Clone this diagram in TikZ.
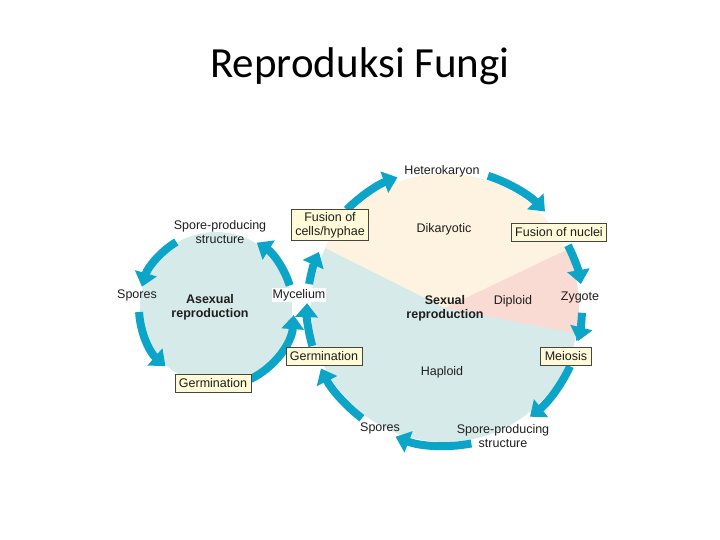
\documentclass[tikz,border=0pt]{standalone}
\usepackage{fontspec}
\setmainfont{Liberation Sans}
\newfontfamily\titlefont{Carlito}
\usetikzlibrary{arrows.meta}
\definecolor{arrowblue}{RGB}{12,165,200}
\definecolor{diskblue}{RGB}{214,235,233}
\definecolor{diskcream}{RGB}{253,243,224}
\definecolor{diskpink}{RGB}{249,219,212}
\definecolor{boxfill}{RGB}{255,250,215}
\definecolor{boxline}{RGB}{70,70,60}
\definecolor{txt}{RGB}{30,30,30}
\tikzset{
  x=1pt, y=1pt,
  cyc/.style={draw=arrowblue, line width=8pt, -{Triangle[length=14pt,width=22pt]}},
  lbl/.style={font=\fontsize{12.5}{14}\selectfont, text=txt, align=center, inner sep=1pt},
  blbl/.style={lbl, font=\fontsize{12.5}{14}\selectfont\bfseries},
  stagebox/.style={lbl, draw=boxline, fill=boxfill, line width=0.8pt, inner xsep=4pt, inner ysep=4.5pt},
}
\begin{document}
\begin{tikzpicture}
\useasboundingbox (0,0) rectangle (720,540);
% title
\node[font=\titlefont\fontsize{43}{47}\selectfont, anchor=base] (title) at (360,462) {Reproduksi Fungi};
% centres
\coordinate (sc) at (216,232);
\coordinate (bc) at (445,232);
% disks
\fill[diskblue] (sc) circle[radius=76];
\fill[diskblue] (bc) circle[radius=134];
\fill[diskcream] (bc) -- ++(25.5:134) arc[start angle=25.5, end angle=153.4, radius=134] -- cycle;
\fill[diskpink] (bc) -- ++(-11:134) arc[start angle=-11, end angle=25.5, radius=134] -- cycle;
% asexual cycle arrows
\draw[cyc] (sc) ++(121:77) arc[start angle=121, end angle=164, radius=77];
\draw[cyc] (sc) ++(183:77) arc[start angle=183, end angle=229, radius=77];
\draw[cyc] (sc) ++(-64:79) arc[start angle=-64, end angle=-4, radius=77];
\draw[cyc] (sc) ++(17:77) arc[start angle=17, end angle=58, radius=77];
% sexual cycle arrows
\draw[cyc] (bc) ++(135:139) arc[start angle=135, end angle=110, radius=139];
\draw[cyc] (bc) ++(72:139) arc[start angle=72, end angle=44, radius=139];
\draw[cyc] (bc) ++(27:138) arc[start angle=27, end angle=10, radius=138];
\draw[cyc] (bc) ++(-2:137) arc[start angle=-2, end angle=-14, radius=137];
\draw[cyc] (bc) ++(-25:138) arc[start angle=-25, end angle=-52, radius=138];
\draw[cyc] (bc) ++(-79:138) arc[start angle=-79, end angle=-111, radius=138];
\draw[cyc] (bc) ++(-127:138) arc[start angle=-127, end angle=-154, radius=138];
\draw[cyc] (bc) ++(-164:138) arc[start angle=-164, end angle=-182, radius=138];
\draw[cyc] (bc) ++(170:138) arc[start angle=170, end angle=156, radius=138];
% asexual labels
\node[lbl] (aspore) at (220,308) {Spore-producing\\structure};
\node[lbl] (aspores) at (137,245) {Spores};
\node[blbl] (asex) at (210,233) {Asexual\\reproduction};
\node[lbl, fill=white] (myc) at (299,245) {Mycelium};
\node[stagebox] (agerm) at (213,157) {Germination};
% sexual labels
\node[stagebox, inner ysep=3pt] (fuscell) at (330,315) {Fusion of\\cells/hyphae};
\node[lbl] (hetero) at (442,369) {Heterokaryon};
\node[lbl] (dika) at (444,311) {Dikaryotic};
\node[stagebox] (fusnuc) at (559,308) {Fusion of nuclei};
\node[lbl] (zyg) at (580,242) {Zygote};
\node[lbl] (dipl) at (513,239) {Diploid};
\node[blbl] (sex) at (445,232) {Sexual\\reproduction};
\node[stagebox] (meio) at (566,184) {Meiosis};
\node[lbl] (hapl) at (442,168) {Haploid};
\node[stagebox] (bgerm) at (324,184) {Germination};
\node[lbl] (bspores) at (380,112) {Spores};
\node[lbl] (bspore) at (503,104) {Spore-producing\\structure};
\end{tikzpicture}
\end{document}
